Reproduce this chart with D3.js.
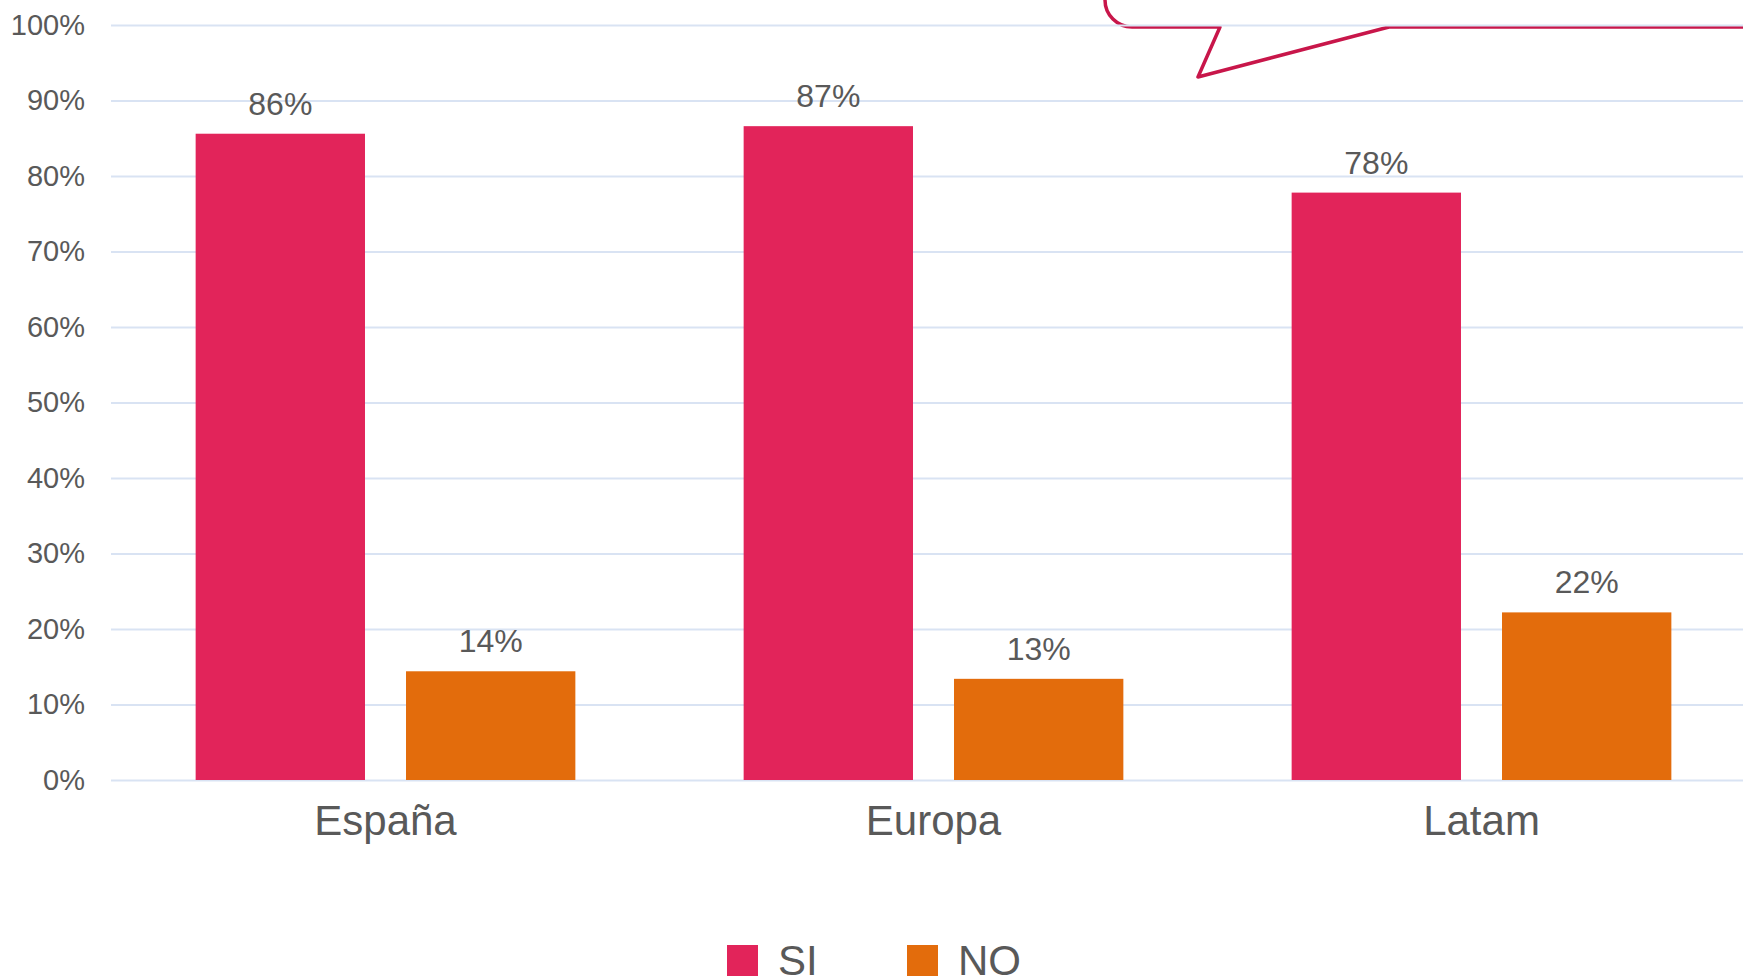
<!DOCTYPE html>
<html>
<head>
<meta charset="utf-8">
<script src="https://cdn.jsdelivr.net/npm/d3@7"></script>
<style>
  body { margin: 0; background: #fff; }
  svg { display: block; font-family: "Liberation Sans", Arial, sans-serif; }
</style>
</head>
<body>
<div class="chart"></div>
<script>
var width = 1743;
var height = 977;

// data
var categories = ['España', 'Europa', 'Latam'];
var series = ['SI', 'NO'];
var si_values = [0.856, 0.866, 0.778];
var no_values = [0.144, 0.134, 0.222];
var tick_values = [0, 0.1, 0.2, 0.3, 0.4, 0.5, 0.6, 0.7, 0.8, 0.9, 1];

var colors = {'SI': '#E2245A', 'NO': '#E36C0C'};
var textColor = '#595959';

var rows = [];
categories.forEach(function(c, i){
    rows.push({'cat': c, 'serie': 'SI', 'value': si_values[i]});
    rows.push({'cat': c, 'serie': 'NO', 'value': no_values[i]});
});

var svg = d3.select(".chart")
            .append('svg')
            .attr('width', width)
            .attr('height', height);

var x0 = d3.scaleBand()
    .domain(categories)
    .range([111.5, 1755.5])
    .padding(0);

var x1 = d3.scaleBand()
    .domain(series)
    .range([0, x0.bandwidth()])
    .paddingInner(0.195)
    .paddingOuter(0.4);

var y = d3.scaleLinear()
    .domain([0, 1])
    .range([780, 25]);

// callout shape, top right (mostly out of frame)
svg.append('path')
    .attr('d', 'M1105,-30 L1105,0 A27,27 0 0 0 1132,27 L1220,27 L1198,77 L1389,27 L1760,27')
    .attr('fill', 'none')
    .attr('stroke', '#C8164A')
    .attr('stroke-width', 3.5)
    .attr('stroke-linejoin', 'round');

// gridlines + tick labels
var yAxis = d3.axisLeft(y)
    .tickValues(tick_values)
    .tickFormat(d3.format('.0%'))
    .tickSize(-(width - 111))
    .tickPadding(26);

var gy = svg.append('g')
    .attr('transform', 'translate(111,0)')
    .call(yAxis);

gy.select('.domain').remove();
gy.selectAll('.tick line')
    .attr('stroke', '#D9E3F3')
    .attr('stroke-width', 2);
gy.selectAll('.tick text')
    .attr('fill', textColor)
    .attr('font-size', '29px')
    .attr('font-family', '"Liberation Sans", Arial, sans-serif');

// bars
svg.selectAll('.bar')
    .data(rows)
    .enter()
    .append('rect')
    .attr('class', 'bar')
    .attr('x', function(d){ return x0(d.cat) + x1(d.serie); })
    .attr('y', function(d){ return y(d.value); })
    .attr('width', x1.bandwidth())
    .attr('height', function(d){ return y(0) - y(d.value); })
    .attr('fill', function(d){ return colors[d.serie]; });

// value labels
svg.selectAll('.value')
    .data(rows)
    .enter()
    .append('text')
    .attr('class', 'value')
    .attr('x', function(d){ return x0(d.cat) + x1(d.serie) + x1.bandwidth()/2; })
    .attr('y', function(d){ return y(d.value) - 19; })
    .attr('text-anchor', 'middle')
    .attr('font-size', '32px')
    .attr('fill', textColor)
    .text(function(d){ return d3.format('.0%')(d.value); });

// category labels
var xAxis = d3.axisBottom(x0).tickSize(0).tickPadding(0);
var gx = svg.append('g')
    .attr('transform', 'translate(0,780)')
    .call(xAxis);
gx.select('.domain').remove();
gx.selectAll('.tick text')
    .attr('y', 55)
    .attr('dy', 0)
    .attr('fill', textColor)
    .attr('font-size', '42px')
    .attr('font-family', '"Liberation Sans", Arial, sans-serif');

// legend
var legend_pos = [{'serie': 'SI', 'x': 727}, {'serie': 'NO', 'x': 907}];
var lg = svg.selectAll('.legend')
    .data(legend_pos)
    .enter()
    .append('g')
    .attr('class', 'legend')
    .attr('transform', function(d){ return 'translate(' + d.x + ',945)'; });

lg.append('rect')
    .attr('width', 31)
    .attr('height', 31)
    .attr('fill', function(d){ return colors[d.serie]; });

lg.append('text')
    .attr('x', 51)
    .attr('y', 30)
    .attr('font-size', '42px')
    .attr('fill', textColor)
    .text(function(d){ return d.serie; });
</script>
</body>
</html>
